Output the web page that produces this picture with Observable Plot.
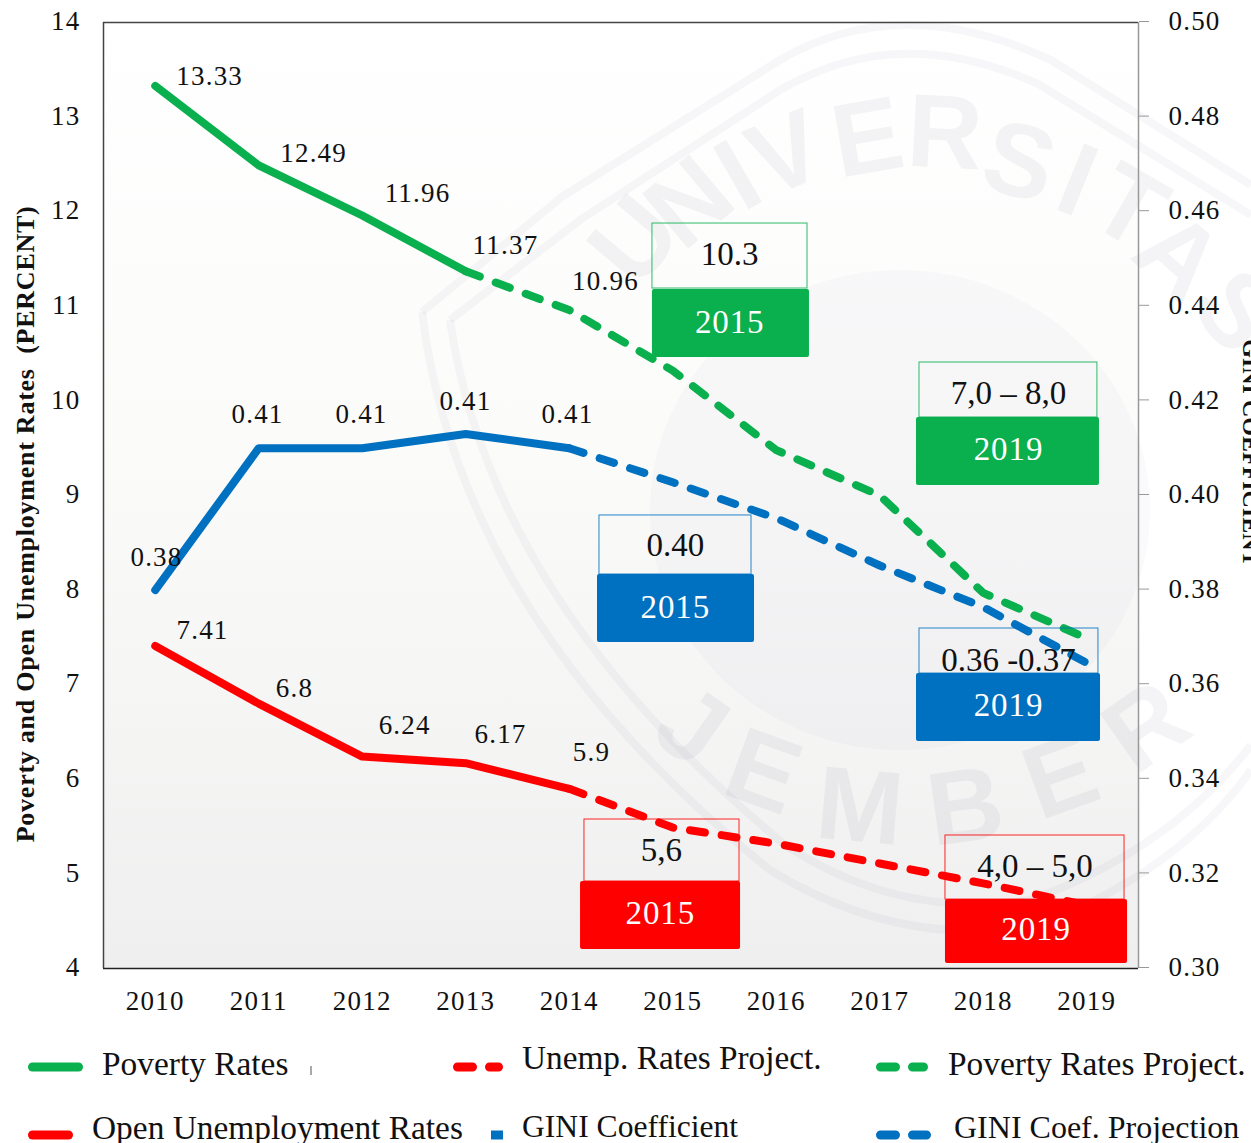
<!DOCTYPE html>
<html>
<head>
<meta charset="utf-8">
<script src="https://cdn.jsdelivr.net/npm/d3@7"></script>
<script src="https://cdn.jsdelivr.net/npm/@observablehq/plot@0.6"></script>
<style>
html,body{margin:0;padding:0;background:#fff;overflow:hidden}
#chart{width:1251px;height:1030px}
#legend{position:relative;width:1251px;height:113px;font-family:"Liberation Serif",serif;color:#111}
#legend span.t{position:absolute;white-space:nowrap;line-height:1}
#legend svg{position:absolute;overflow:visible;left:0;top:0}
#chart g[aria-label*="tick label"] text,.num text{letter-spacing:1.2px}
.yr text{letter-spacing:.9px}
.ytitle text{letter-spacing:.75px}
</style>
</head>
<body>
<div id="chart"></div>
<div id="legend"></div>
<script>
const years = ["2010","2011","2012","2013","2014","2015","2016","2017","2018","2019"];
const povertyRates = [13.33,12.49,11.96,11.37];
const povertyProjection = [11.37,10.96,10.32,9.48,9.0,7.97,7.49];
const unemploymentRates = [7.41,6.8,6.24,6.17,5.9];
const unemploymentProjection = [5.9,5.49,5.32,5.11,4.9,4.67];
const giniValues = [0.38,0.41,0.41,0.413,0.41];
const giniProjection = [0.41,0.4028,0.3952,0.3852,0.3764,0.3646];

const povertyLabels = ["13.33","12.49","11.96","11.37","10.96"];
const povertyLabelX = [0.526,1.53,2.534,3.384,4.35];
const povertyLabelY = [13.43,12.615,12.19,11.64,11.26];
const giniLabels = ["0.38","0.41","0.41","0.41","0.41"];
const giniLabelX = [0.012,0.988,1.993,2.997,3.983];
const giniLabelY = [8.345,9.856,9.856,10.0,9.856];
const unempLabels = ["7.41","6.8","6.24","6.17","5.9"];
const unempLabelX = [0.457,1.345,2.41,3.336,4.215];
const unempLabelY = [7.573,6.96,6.57,6.47,6.283];

const GREEN="#0aaf4e", BLUE="#0070c0", RED="#ff0000";
const targets = [
 {c:GREEN,year:"2015",val:"10.3",    ox:[4.804,6.302],oy:[11.875,11.188],fx:[4.804,6.321],fy:[11.178,10.459],vx:5.55,vy:11.55,tx:5.55,ty:10.83},
 {c:GREEN,year:"2019",val:"7,0 – 8,0",ox:[7.384,9.103],oy:[10.406,9.825],fx:[7.355,9.123],fy:[9.825,9.106],vx:8.244,vy:10.08,tx:8.244,ty:9.485},
 {c:BLUE,year:"2015",val:"0.40",     ox:[4.292,5.761],oy:[8.789,8.165],fx:[4.273,5.790],fy:[8.165,7.446],vx:5.025,vy:8.47,tx:5.025,ty:7.82},
 {c:BLUE,year:"2019",val:"0.36 -0.37",ox:[7.384,9.113],oy:[7.594,7.118],fx:[7.355,9.133],fy:[7.118,6.400],vx:8.244,vy:7.26,tx:8.244,ty:6.78},
 {c:RED,year:"2015",val:"5,6",       ox:[4.147,5.645],oy:[5.575,4.920],fx:[4.109,5.655],fy:[4.920,4.201],vx:4.89,vy:5.25,tx:4.88,ty:4.58},
 {c:RED,year:"2019",val:"4,0 – 5,0", ox:[7.635,9.365],oy:[5.406,4.729],fx:[7.635,9.394],fy:[4.729,4.053],vx:8.50,vy:5.08,tx:8.51,ty:4.41}
];
const legendItems = [
 ["Poverty Rates",GREEN,false,102,1047,33.4,28,83,1067,"round"],
 ["Unemp. Rates Project.",RED,true,522,1041,33.3,453,503,1067,"round"],
 ["Poverty Rates Project.",GREEN,true,948,1047,33.4,876,928,1067,"round"],
 ["Open Unemployment Rates",RED,false,92,1111,33.4,28,73,1135,"round"],
 ["GINI Coefficient",BLUE,false,522,1111,31.6,491,503,1135,"butt"],
 ["GINI Coef. Projection",BLUE,true,954,1111,32,876,931,1135,"round"]
];
const watermarkTop = [["U",633,239,-50],["N",688,201,-40],["I",737,174,-30],["V",785,152,-22],["E",867,136,-10],["R",945,131,3],["S",1020,160,15],["I",1078,179,22],["T",1130,205,30],["A",1180,255,42],["S",1238,310,52]];
const watermarkBottom = [["J",693,725,35],["E",764,770,20],["M",860,805,5],["B",965,805,-8],["E",1060,775,-20],["R",1145,725,-35]];

const giniToAxis = g => (g-0.30)/0.02+4;
const series = (vals,start,map=d=>d)=>vals.map((v,i)=>({x:start+i,y:map(v)}));
const labels = (t,xs,ys)=>t.map((s,i)=>({s,x:xs[i],y:ys[i]}));
const FONT='"Liberation Serif",serif';

function gradient(){
  const s=d3.create("svg:defs");
  const g=s.append("linearGradient").attr("id","bg").attr("x1",0).attr("x2",0).attr("y1",0).attr("y2",1);
  g.append("stop").attr("offset","0%").attr("stop-color","#ffffff");
  g.append("stop").attr("offset","45%").attr("stop-color","#fbfbfa");
  g.append("stop").attr("offset","100%").attr("stop-color","#efefef");
  return s.node();
}
function watermark(){
  const s=d3.create("svg:g").attr("pointer-events","none").attr("aria-hidden","true");
  const col="rgba(60,70,110,0.045)";
  const lines=["M 422 312 L 563 196 L 780 60 Q 900 -10 1051 60 L 1251 185",
               "M 422 312 Q 460 620 770 870 Q 900 950 1040 925 Q 1180 870 1251 770",
               "M 450 320 L 580 220 L 780 90 Q 900 20 1040 85 L 1251 215",
               "M 450 320 Q 490 600 785 845 Q 900 920 1030 900 Q 1170 850 1251 745"];
  for(const d of lines) s.append("path").attr("d",d).attr("fill","none").attr("stroke",col).attr("stroke-width",8);
  s.append("ellipse").attr("cx",900).attr("cy",510).attr("rx",250).attr("ry",240).attr("fill","rgba(90,110,150,0.03)");
  for(const [ch,x,y,r] of [...watermarkTop,...watermarkBottom]){
    s.append("text").attr("transform",`translate(${x},${y}) rotate(${r})`).attr("text-anchor","middle").attr("dy","0.35em")
      .attr("font-family",'"Liberation Sans",sans-serif').attr("font-weight","bold").attr("font-size",104).attr("fill","rgba(60,70,110,0.06)").text(ch);
  }
  return s.node();
}

const dash="15 17";
const solidOpts=(c)=>({x:"x",y:"y",stroke:c,strokeWidth:8,strokeLinecap:"round",strokeLinejoin:"round"});
const dashOpts=(c)=>({...solidOpts(c),strokeDasharray:dash});
const chart = Plot.plot({
  width:1251,height:1030,
  marginLeft:103,marginRight:113,marginTop:22,marginBottom:62,
  style:{fontFamily:FONT,background:"transparent",overflow:"visible"},
  x:{domain:[-0.5,9.5],label:null,axis:null},
  y:{domain:[4,14],label:null,axis:null},
  marks:[
    gradient,
    Plot.frame({fill:"url(#bg)",stroke:"none"}),
    watermark,
    Plot.ruleX([-0.5],{stroke:"#444",strokeWidth:1.5}),
    Plot.ruleY([4],{stroke:"#222",strokeWidth:1.5}),
    Plot.ruleY([14],{stroke:"#444",strokeWidth:1.5}),
    Plot.ruleX([9.5],{stroke:"#999",strokeWidth:1.5}),
    Plot.axisY({anchor:"left",ticks:d3.range(4,15),tickSize:0,tickPadding:23,label:null,fontSize:27,dy:-1,tickFormat:d=>d,fill:"#111"}),
    Plot.axisY({anchor:"right",ticks:d3.range(4,15),tickSize:10,tickPadding:20,label:null,fontSize:27,dy:-1,stroke:"#999",
      tickFormat:d=>(0.30+(d-4)*0.02).toFixed(2),fill:"#111"}),
    Plot.axisX({ticks:d3.range(0,10),tickSize:0,tickPadding:22,label:null,fontSize:27,tickFormat:d=>years[d],fill:"#111"}),
    Plot.line(series(povertyRates,0),solidOpts(GREEN)),
    Plot.line(series(povertyProjection,3),dashOpts(GREEN)),
    Plot.line(series(giniValues,0,giniToAxis),solidOpts(BLUE)),
    Plot.line(series(giniProjection,4,giniToAxis),dashOpts(BLUE)),
    Plot.line(series(unemploymentRates,0),solidOpts(RED)),
    Plot.line(series(unemploymentProjection,4),dashOpts(RED)),
    Plot.text(labels(povertyLabels,povertyLabelX,povertyLabelY),{x:"x",y:"y",text:"s",fontSize:27,fill:"#111",className:"num"}),
    Plot.text(labels(giniLabels,giniLabelX,giniLabelY),{x:"x",y:"y",text:"s",fontSize:27,fill:"#111",className:"num"}),
    Plot.text(labels(unempLabels,unempLabelX,unempLabelY),{x:"x",y:"y",text:"s",fontSize:27,fill:"#111",className:"num"}),
    Plot.rect(targets,{x1:d=>d.ox[0],x2:d=>d.ox[1],y1:d=>d.oy[0],y2:d=>d.oy[1],stroke:"c",fill:"none",strokeWidth:1,strokeOpacity:0.85}),
    Plot.rect(targets,{x1:d=>d.fx[0],x2:d=>d.fx[1],y1:d=>d.fy[0],y2:d=>d.fy[1],fill:"c",rx:2}),
    Plot.text(targets,{x:"vx",y:"vy",text:"val",fontFamily:FONT,fontSize:33,fill:"#111"}),
    Plot.text(targets,{x:"tx",y:"ty",text:"year",fontFamily:FONT,fontSize:33,fill:"#fff",className:"yr"}),
    Plot.text(["Poverty and Open Unemployment Rates  (PERCENT)"],{x:-0.5,y:8.70,text:d=>d,rotate:-90,dx:-78,fontSize:26,fontWeight:"bold",fill:"#111",className:"ytitle"}),
    Plot.text(["GINI COEFFICIENT"],{x:9.5,y:9.45,text:d=>d,rotate:90,dx:112,fontSize:24,fontWeight:"bold",fill:"#111"})
  ]
});
document.getElementById("chart").appendChild(chart);
const lg=document.getElementById("legend");
const OFF=1030, SW=9;
for(const [t,c,dashed,tx,ty,fs,x1,x2,ly,cap] of legendItems){
  const inset=cap==="round"?SW/2:0;
  const sp=document.createElement("span");sp.className="t";sp.textContent=t;
  sp.style.left=tx+"px";sp.style.top=(ty-OFF)+"px";sp.style.fontSize=fs+"px";lg.appendChild(sp);
  const sv=d3.create("svg").attr("width",1).attr("height",1);
  sv.append("line").attr("x1",x1+inset).attr("x2",x2-inset).attr("y1",ly-OFF).attr("y2",ly-OFF)
    .attr("stroke",c).attr("stroke-width",SW).attr("stroke-linecap",cap)
    .attr("stroke-dasharray",dashed?"15 17":null);
  lg.appendChild(sv.node());
}
const stray=d3.create("svg").attr("width",1).attr("height",1);
stray.append("line").attr("x1",311).attr("x2",311).attr("y1",1066-OFF).attr("y2",1075-OFF).attr("stroke","#555").attr("stroke-width",1);
lg.appendChild(stray.node());
</script>
</body>
</html>
